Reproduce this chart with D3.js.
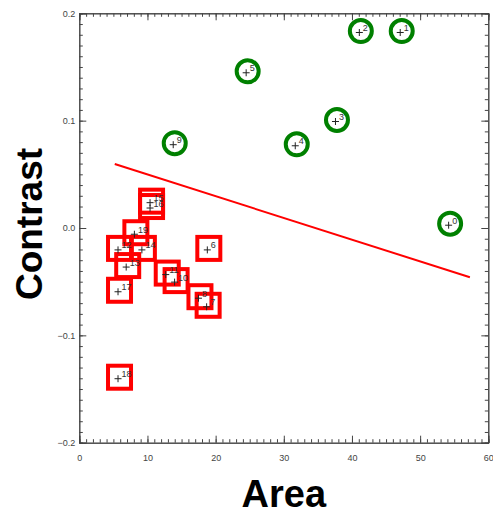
<!doctype html>
<html lang="en">
<head>
<meta charset="utf-8">
<script src="https://cdnjs.cloudflare.com/ajax/libs/d3/7.8.5/d3.min.js"></script>
<style>
  body { margin: 0; background: #fff; }
  svg { display: block; font-family: 'Liberation Sans', Arial, sans-serif; }
  .axis path, .axis line { stroke: #444; }
  .axis text { fill: #444; font-size: 9px; }
</style>
</head>
<body>
<script>
// green circles (upper group)
const circleIds = [0, 1, 2, 3, 4, 5, 9];
const circleArea = [54.4, 47.3, 41.3, 37.8, 31.9, 24.7, 14.0];
const circleContrast = [0.004, 0.1835, 0.1835, 0.1006, 0.078, 0.146, 0.079];

// red squares (lower group)
const squareIds = [15, 16, 19, 14, 12, 13, 6, 17, 11, 10, 8, 7, 18];
const squareArea = [10.6, 10.6, 8.3, 9.4, 5.9, 7.1, 19.0, 5.9, 12.9, 14.2, 17.7, 18.9, 5.9];
const squareContrast = [0.025, 0.020, -0.0044, -0.019, -0.019, -0.035, -0.019, -0.058, -0.042, -0.049, -0.064, -0.072, -0.139];

// fitted line end points
const fitArea = [5.2, 57.3];
const fitContrast = [0.0596, -0.0459];

const xTicks = [0, 10, 20, 30, 40, 50, 60];
const yTicks = [-0.2, -0.1, 0.0, 0.1, 0.2];

const w = 493, h = 512;
const mLeft = 79.3, mRight = 488.3, mTop = 13.3, mBottom = 442.7;

const x = d3.scaleLinear().domain([0, 60]).range([mLeft, mRight]);
const y = d3.scaleLinear().domain([-0.2, 0.2]).range([mBottom, mTop]);

const svg = d3.select("body").append("svg")
  .attr("width", w).attr("height", h);

svg.append("rect").attr("width", w).attr("height", h).attr("fill", "#fff");

const minorX = d3.range(0, 61, 1);
const minorY = d3.range(-20, 21, 1).map(v => v / 100);

// bottom axis
svg.append("g").attr("class", "axis")
  .attr("transform", `translate(0,${mBottom})`)
  .call(d3.axisBottom(x).tickValues(minorX).tickSize(-3.5).tickFormat(""));
svg.append("g").attr("class", "axis")
  .attr("transform", `translate(0,${mBottom})`)
  .call(d3.axisBottom(x).tickValues(xTicks).tickSize(-7).tickPadding(12).tickFormat(d3.format("d")));

// top axis
svg.append("g").attr("class", "axis")
  .attr("transform", `translate(0,${mTop})`)
  .call(d3.axisTop(x).tickValues(minorX).tickSize(-3.5).tickFormat(""));
svg.append("g").attr("class", "axis")
  .attr("transform", `translate(0,${mTop})`)
  .call(d3.axisTop(x).tickValues(xTicks).tickSize(-7).tickFormat(""));

// left axis
svg.append("g").attr("class", "axis")
  .attr("transform", `translate(${mLeft},0)`)
  .call(d3.axisLeft(y).tickValues(minorY).tickSize(-3.5).tickFormat(""));
svg.append("g").attr("class", "axis")
  .attr("transform", `translate(${mLeft},0)`)
  .call(d3.axisLeft(y).tickValues(yTicks).tickSize(-7).tickPadding(4).tickFormat(d3.format(".1f")));

// right axis
svg.append("g").attr("class", "axis")
  .attr("transform", `translate(${mRight},0)`)
  .call(d3.axisRight(y).tickValues(minorY).tickSize(-3.5).tickFormat(""));
svg.append("g").attr("class", "axis")
  .attr("transform", `translate(${mRight},0)`)
  .call(d3.axisRight(y).tickValues(yTicks).tickSize(-7).tickFormat(""));

// fitted line
svg.append("line")
  .attr("x1", x(fitArea[0])).attr("y1", y(fitContrast[0]))
  .attr("x2", x(fitArea[1])).attr("y2", y(fitContrast[1]))
  .attr("stroke", "#ff0000").attr("stroke-width", 2);

const circles = circleIds.map((id, i) => ({ id, a: circleArea[i], c: circleContrast[i] }));
const squares = squareIds.map((id, i) => ({ id, a: squareArea[i], c: squareContrast[i] }));

svg.selectAll("circle.pt").data(circles).enter().append("circle")
  .attr("class", "pt")
  .attr("cx", d => x(d.a)).attr("cy", d => y(d.c))
  .attr("r", 11)
  .attr("fill", "none").attr("stroke", "#008000").attr("stroke-width", 4);

svg.selectAll("rect.pt").data(squares).enter().append("rect")
  .attr("class", "pt")
  .attr("x", d => x(d.a) - 11.5).attr("y", d => y(d.c) - 11.5)
  .attr("width", 23).attr("height", 23)
  .attr("fill", "none").attr("stroke", "#ff0000").attr("stroke-width", 4);

// plus markers and labels
const all = circles.concat(squares);
const marks = svg.selectAll("g.mark").data(all).enter().append("g")
  .attr("class", "mark")
  .attr("transform", d => `translate(${x(d.a) - 1.5},${y(d.c) + 1.5})`);
marks.append("path")
  .attr("d", "M-3.5,0H3.5M0,-3.5V3.5")
  .attr("stroke", "#222").attr("stroke-width", 1);
marks.append("text")
  .attr("x", 3.5).attr("y", -1.5)
  .attr("font-size", 9).attr("fill", "#333")
  .text(d => d.id);

// axis titles
svg.append("text")
  .attr("x", (mLeft + mRight) / 2).attr("y", 507)
  .attr("text-anchor", "middle")
  .attr("font-size", 38).attr("font-weight", "bold").attr("fill", "#000")
  .text("Area");

svg.append("text")
  .attr("transform", "rotate(-90)")
  .attr("x", -224).attr("y", 42)
  .attr("text-anchor", "middle")
  .attr("font-size", 37).attr("font-weight", "bold").attr("fill", "#000")
  .text("Contrast");
</script>
</body>
</html>
